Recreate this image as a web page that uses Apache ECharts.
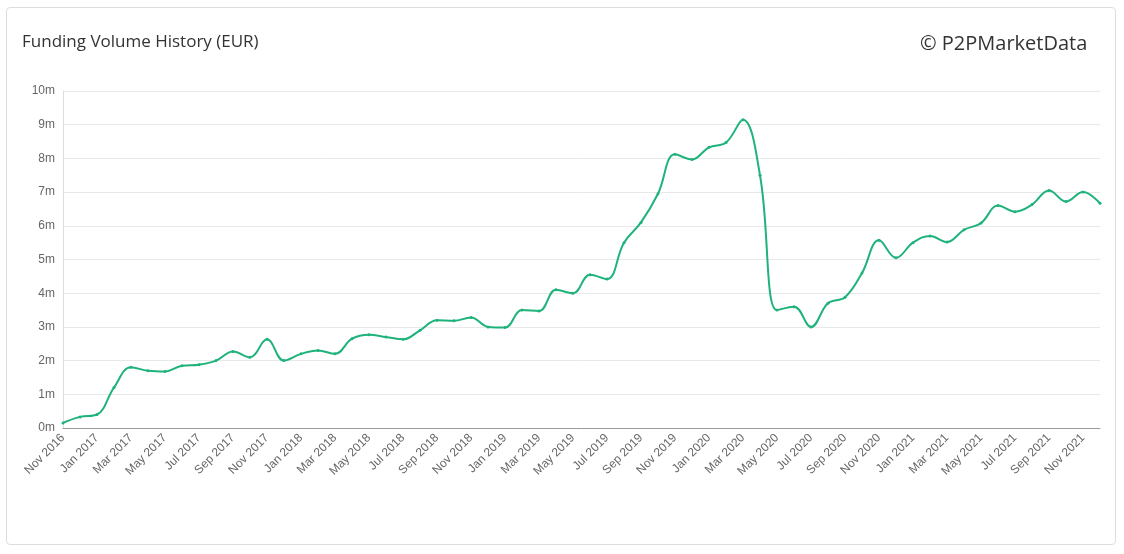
<!DOCTYPE html>
<html><head><meta charset="utf-8">
<script src="https://cdn.jsdelivr.net/npm/echarts@6/dist/echarts.min.js"></script>
<style>
html,body{margin:0;padding:0;background:#fff;font-family:"Open Sans",Arial,sans-serif;}
#card{position:absolute;left:6px;top:7px;width:1110px;height:538px;border:1px solid #ddd;border-radius:4px;box-sizing:border-box;}
#title{position:absolute;left:22px;top:29px;font-size:17px;color:#333;}
#wm{position:absolute;left:920px;top:29px;font-size:20px;color:#333;}
#chart{position:absolute;left:0;top:0;width:1124px;height:554px;}
</style></head><body>
<div id="card"></div>
<div id="chart"></div>
<div id="title">Funding Volume History (EUR)</div>
<div id="wm">© P2PMarketData</div>
<script>
const monthNames=['Jan','Feb','Mar','Apr','May','Jun','Jul','Aug','Sep','Oct','Nov','Dec'];
const categories=[];
for(let i=0;i<62;i++){const m=(10+i)%12;const y=2016+Math.floor((10+i)/12);categories.push(monthNames[m]+' '+y);}
const volumes=[0.15,0.33,0.4,1.2,1.8,1.7,1.68,1.85,1.88,2.0,2.27,2.1,2.63,2.0,2.2,2.3,2.2,2.65,2.77,2.7,2.63,2.9,3.2,3.18,3.28,3.0,2.98,3.5,3.47,4.1,4.0,4.55,4.42,5.5,6.1,6.95,8.12,7.97,8.33,8.47,9.15,7.5,3.5,3.6,3.0,3.7,3.88,4.6,5.57,5.05,5.5,5.7,5.52,5.88,6.08,6.6,6.42,6.63,7.05,6.72,7.0,6.67];
const chart=echarts.init(document.getElementById('chart'));
chart.setOption({
 animation:false,
 grid:{left:63,right:24,top:91,bottom:126},
 xAxis:{type:'category',data:categories,boundaryGap:false,
  axisLine:{lineStyle:{color:'#999'}},axisTick:{show:false},
  axisLabel:{interval:1,rotate:45,color:'#666',fontSize:12,fontFamily:'Arial'}},
 yAxis:{type:'value',min:0,max:10,interval:1,
  axisLabel:{formatter:v=>v+'m',color:'#666',fontSize:12,fontFamily:'Arial'},
  axisLine:{show:true,lineStyle:{color:'#ddd'}},
  splitLine:{lineStyle:{color:'#e8e8e8'}}},
 series:[{type:'line',data:volumes,smooth:0.4,symbol:'circle',symbolSize:3,
  lineStyle:{color:'#1fb37b',width:2},itemStyle:{color:'#1fb37b'}}]
});
</script></body></html>
